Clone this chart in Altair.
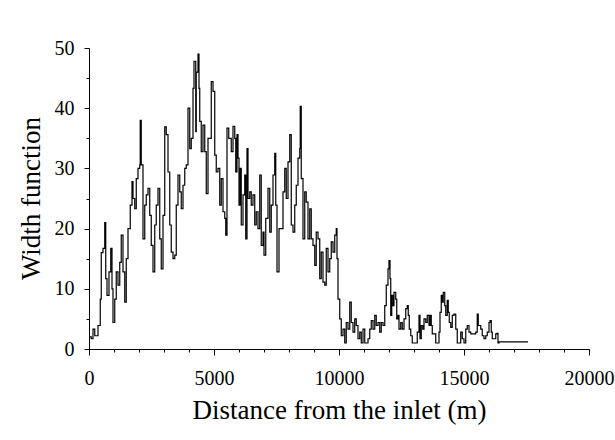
import altair as alt
import pandas as pd

distance = [0, 90, 160, 230, 360, 450, 490, 560, 630, 670, 720, 800, 870, 920, 960,
            1030, 1090, 1160, 1230, 1290, 1360, 1430, 1490, 1560, 1650, 1720, 1760, 1830,
            1890, 1960, 2030, 2050, 2090, 2160, 2230, 2290, 2360, 2430, 2490, 2560, 2630,
            2690, 2760, 2830, 2890, 2960, 3030, 3090, 3160, 3230, 3290, 3360, 3430, 3490,
            3560, 3630, 3690, 3760, 3830, 3890, 3960, 4030, 4090, 4160, 4200, 4270, 4290,
            4360, 4400, 4430, 4490, 4560, 4630, 4690, 4760, 4830, 4890, 4960, 5030, 5090,
            5160, 5230, 5290, 5360, 5430, 5470, 5520, 5590, 5630, 5690, 5760, 5830, 5870,
            5920, 5960, 6000, 6050, 6090, 6160, 6230, 6270, 6320, 6360, 6430, 6490, 6560,
            6630, 6690, 6760, 6830, 6890, 6960, 7000, 7070, 7160, 7230, 7290, 7360, 7430,
            7470, 7520, 7600, 7690, 7760, 7830, 7890, 7960, 8030, 8090, 8160, 8230, 8290,
            8360, 8430, 8450, 8490, 8560, 8630, 8690, 8760, 8830, 8890, 8960, 9030, 9090,
            9160, 9230, 9290, 9360, 9430, 9490, 9560, 9630, 9690, 9760, 9830, 9890, 9920,
            9960, 10030, 10090, 10160, 10230, 10290, 10360, 10430, 10490, 10560, 10630,
            10690, 10760, 10830, 10890, 10960, 11030, 11090, 11160, 11230, 11290, 11360,
            11430, 11490, 11560, 11630, 11690, 11760, 11830, 11890, 11960, 12000, 12040,
            12070, 12110, 12160, 12200, 12270, 12310, 12360, 12400, 12470, 12530, 12600,
            12670, 12730, 12770, 12810, 12870, 12930, 13000, 13070, 13130, 13200, 13240,
            13290, 13350, 13400, 13470, 13530, 13600, 13640, 13690, 13730, 13800, 13870,
            13930, 14000, 14040, 14090, 14130, 14170, 14230, 14270, 14330, 14370, 14410,
            14470, 14530, 14600, 14670, 14730, 14800, 14870, 14930, 15000, 15070, 15130,
            15200, 15270, 15330, 15400, 15470, 15530, 15570, 15630, 15670, 15730, 15800,
            15870, 15930, 16000, 16040, 16090, 16130, 16200, 16270, 16320, 16360, 16400,
            17560]

width_fn = [2, 1.7, 3.3, 2.2, 3.9, 8.3, 16, 16.7, 21, 11.7, 8.9, 12.8, 16.7, 10, 4.4,
            8.3, 12.8, 10.6, 14.4, 18.9, 12.8, 7.8, 15, 20, 23.9, 27.8, 25, 23.3,
            28.3, 30, 30.6, 38, 30.6, 18.3, 23.9, 25.6, 26.7, 22.2, 17.2, 12.8, 20.6,
            23.9, 26.7, 18.3, 13.3, 22.2, 36.9, 35.6, 29.4, 20.6, 16.1, 15, 15.6, 23.9,
            28.9, 26.1, 23.3, 27.2, 30, 30.6, 40, 33.3, 35, 43.3, 47.8, 36.1, 46,
            49, 43.3, 37.8, 32.8, 37.2, 32.8, 25.8, 35, 35, 44.4, 42.8, 32.2, 29.4,
            30, 23.9, 28.3, 22.8, 21.7, 18.9, 36.7, 35, 35, 32.8, 37, 35, 29.4,
            35.6, 31.7, 23.9, 30, 20.6, 25.6, 28.9, 18.3, 33.3, 25, 26.1, 23.9, 25.6,
            20.6, 22.8, 20, 28.9, 17.2, 19.4, 15.6, 21.7, 26.7, 19.4, 23.9, 28.9, 32.5,
            23.9, 12.8, 20, 20, 26.1, 30, 25, 31.1, 35.6, 20.6, 19.4, 23.9, 27.2,
            31.7, 33.3, 40.3, 28.3, 18.3, 26.1, 24.4, 18.3, 23.3, 18.3, 17.2, 13.9, 19.4,
            18.3, 11.7, 16.1, 11.1, 10.6, 16.7, 12.8, 15, 17.8, 16.1, 18.9, 20, 15,
            8.3, 5, 2.2, 3.3, 1, 4.4, 3.3, 7.8, 4.4, 2.8, 5,
            3.9, 1.7, 2.8, 1, 3.3, 1, 1, 1.7, 3.3, 4.7, 3.3,
            5.6, 3.9, 4.4, 2.8, 4.4, 3.9, 7.2, 10.6, 13.3, 14.7, 11.7,
            5.6, 8.9, 7.2, 9.4, 8.3, 5, 5.6, 3.3, 4.4, 3.3, 5,
            6.7, 7.2, 5.6, 3.3, 2.2, 1, 1, 1, 2.8, 5.6, 1.7,
            3.9, 3.3, 5, 4.4, 5.6, 3.9, 5.6, 3.9, 2.5, 2.5, 1,
            1, 2.8, 6.1, 8.9, 7.8, 9.4, 7.2, 5.6, 8.1, 6.1, 4.4,
            3.6, 5.6, 5.8, 3.3, 1, 1, 2.8, 1.7, 1, 3.3, 3.9,
            2.8, 2.5, 2.5, 2.5, 2.8, 5.8, 3.9, 3.9, 3.3, 2.2, 1.7,
            2.2, 2.8, 4.4, 4.7, 2.8, 1.7, 1.7, 2.5, 2.6, 1, 1.2,
            1.2]

x_major = [0, 5000, 10000, 15000, 20000]
x_minor = [0, 1000, 2000, 3000, 4000, 5000, 6000, 7000, 8000, 9000, 10000,
           11000, 12000, 13000, 14000, 15000, 16000, 17000, 18000, 19000, 20000]
y_major = [0, 10, 20, 30, 40, 50]
y_minor = [0, 5, 10, 15, 20, 25, 30, 35, 40, 45, 50]

df = pd.DataFrame({"d": distance, "w": width_fn})
FONT = "Liberation Serif"

xs = alt.Scale(domain=[0, 20000], nice=False, zero=False)
ys = alt.Scale(domain=[0, 50], nice=False)

base = alt.Chart(df)

line = base.mark_line(interpolate="step-after", color="black", strokeWidth=1.2).encode(
    x=alt.X("d:Q", scale=xs,
            axis=alt.Axis(values=x_major, orient="bottom", title="Distance from the inlet (m)",
                          tickSize=6, labelPadding=13, labelFontSize=20, titleFontSize=27,
                          titleX=250, titleY=61, titleBaseline="middle", titleAlign="center",
                          format="d", labelFlush=False)),
    y=alt.Y("w:Q", scale=ys,
            axis=alt.Axis(values=y_major, orient="left", title="Width function",
                          tickSize=5, labelPadding=10, labelFontSize=20, titleFontSize=27,
                          titleX=-58, titleY=150, titleAngle=-90, titleBaseline="middle",
                          titleAlign="center", format="d", labelBaseline="middle")),
)

minor = base.mark_line(opacity=0).encode(
    x=alt.X("d:Q", scale=xs,
            axis=alt.Axis(values=x_minor, orient="bottom", labels=False, title="",
                          tickSize=3, domain=False)),
    y=alt.Y("w:Q", scale=ys,
            axis=alt.Axis(values=y_minor, orient="left", labels=False, title="",
                          tickSize=3, domain=False)),
)

chart = alt.layer(minor, line).resolve_axis(x="independent", y="independent").properties(
    width=500, height=301,
    autosize=alt.AutoSizeParams(type="none"),
    padding={"left": 89, "top": 48, "right": 26, "bottom": 91},
).configure_view(stroke=None).configure_axis(
    grid=False, domainColor="black", tickColor="black", labelColor="black",
    titleColor="black", labelFont=FONT, titleFont=FONT, titleFontWeight="normal",
    domainWidth=1, tickWidth=1,
)

chart.save("out.html", embed_options={"renderer": "svg", "actions": False})
